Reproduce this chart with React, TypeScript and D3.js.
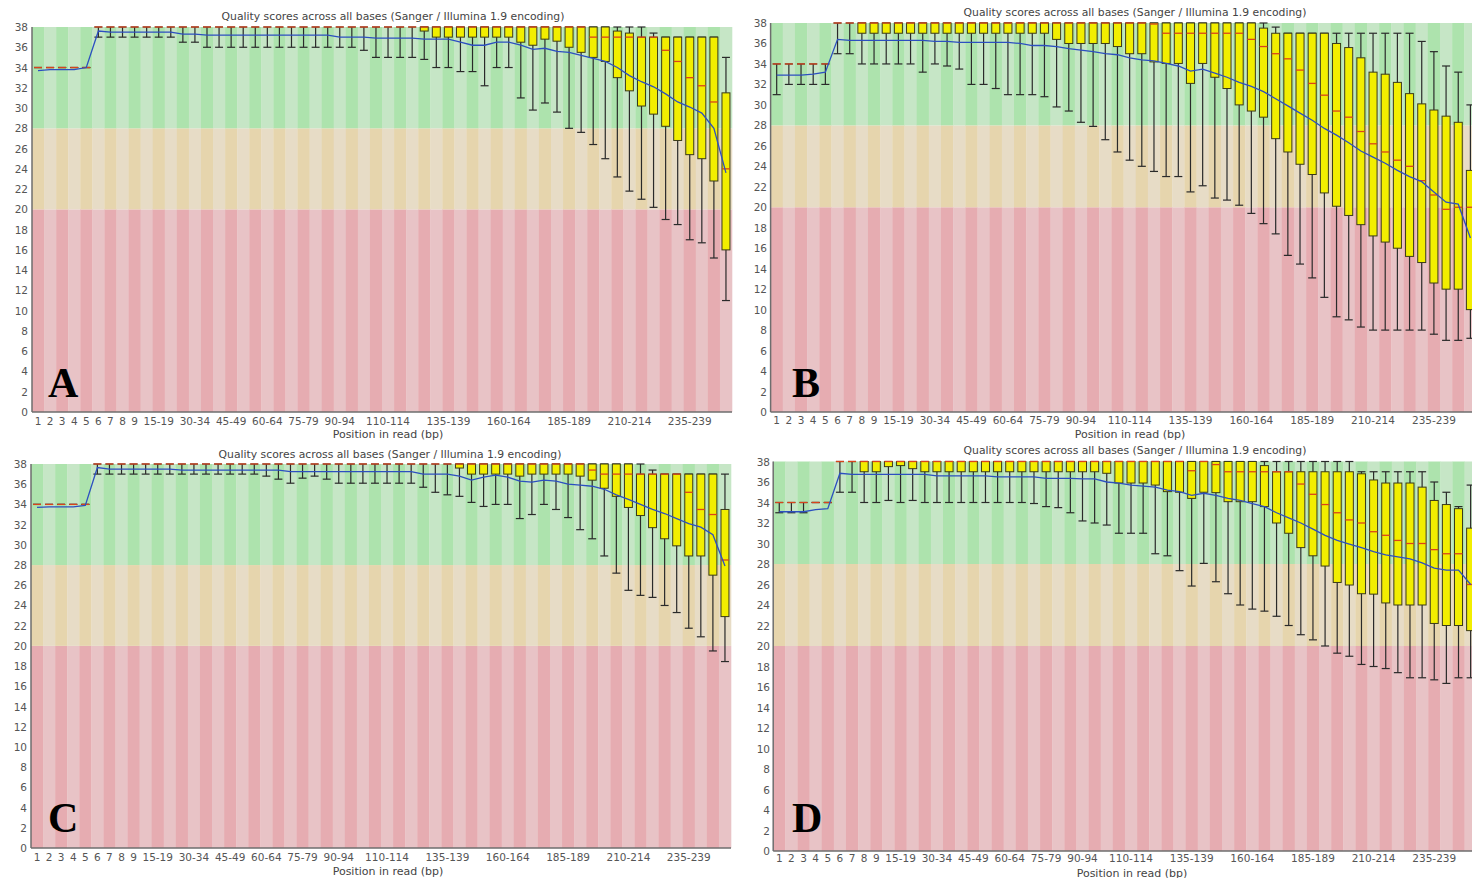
import * as d3 from 'd3'

// FastQC "per base sequence quality" for four samples (A-D)
const categories = [
  '1', '2', '3', '4', '5', '6', '7', '8', '9', '10-14', '15-19', '20-24', '25-29', '30-34', '35-39',
  '40-44', '45-49', '50-54', '55-59', '60-64', '65-69', '70-74', '75-79', '80-84', '85-89', '90-94',
  '95-99', '100-104', '105-109', '110-114', '115-119', '120-124', '125-129', '130-134', '135-139',
  '140-144', '145-149', '150-154', '155-159', '160-164', '165-169', '170-174', '175-179', '180-184',
  '185-189', '190-194', '195-199', '200-204', '205-209', '210-214', '215-219', '220-224', '225-229',
  '230-234', '235-239', '240-244', '245-249', '250-251',
]
const shownTicks = [
  '1', '2', '3', '4', '5', '6', '7', '8', '9', '15-19', '30-34', '45-49', '60-64', '75-79', '90-94',
  '110-114', '135-139', '160-164', '185-189', '210-214', '235-239',
]
const yTicks = [0, 2, 4, 6, 8, 10, 12, 14, 16, 18, 20, 22, 24, 26, 28, 30, 32, 34, 36, 38]
const title = 'Quality scores across all bases (Sanger / Illumina 1.9 encoding)'
const xTitle = 'Position in read (bp)'

// quality zones: bad / mediocre / good
const zones = [
  { lo: 0, hi: 20, dark: '#e6acb1', light: '#e8c3c6' },
  { lo: 20, hi: 28, dark: '#e6d5ad', light: '#e7dcc6' },
  { lo: 28, hi: 38, dark: '#ade3ad', light: '#c6e6c6' },
]

// ---- A ----
const aMean = [
  33.7, 33.8, 33.8, 33.8, 34.0, 37.6, 37.5, 37.5, 37.5, 37.5,
  37.5, 37.5, 37.3, 37.3, 37.2, 37.2, 37.2, 37.2, 37.2, 37.2,
  37.2, 37.2, 37.2, 37.2, 37.2, 37.0, 37.0, 37.0, 36.9, 36.9,
  36.9, 36.9, 36.8, 36.8, 36.8, 36.5, 36.2, 36.2, 36.5, 36.5,
  36.2, 35.8, 35.9, 35.6, 35.5, 35.2, 34.9, 34.6, 34.0, 33.2,
  32.6, 32.1, 31.4, 30.6, 30.1, 29.5, 28.0, 23.6,
]
const aMed = [
  34, 34, 34, 34, 34, 38, 38, 38, 38, 38,
  38, 38, 38, 38, 38, 38, 38, 38, 38, 38,
  38, 38, 38, 38, 38, 38, 38, 38, 38, 38,
  38, 38, 38, 38, 38, 38, 38, 38, 38, 38,
  38, 38, 38, 38, 38, 38, 37, 37, 37, 37,
  37, 37, 35.7, 34.6, 33, 32.2, 30.6, 24,
]
const aQ3 = [
  34, 34, 34, 34, 34, 38, 38, 38, 38, 38,
  38, 38, 38, 38, 38, 38, 38, 38, 38, 38,
  38, 38, 38, 38, 38, 38, 38, 38, 38, 38,
  38, 38, 38, 38, 38, 38, 38, 38, 38, 38,
  38, 38, 38, 38, 38, 38, 38, 38, 37.6, 37.4,
  37, 37, 37, 37, 37, 37, 37, 31.5,
]
const aQ1 = [
  34, 34, 34, 34, 34, 38, 38, 38, 38, 38,
  38, 38, 38, 38, 38, 38, 38, 38, 38, 38,
  38, 38, 38, 38, 38, 38, 38, 38, 38, 38,
  38, 38, 37.6, 37, 37, 37, 37, 37, 37, 37,
  36.5, 36.2, 36.8, 36.6, 36, 35.5, 35, 34.6, 33, 31.7,
  30.2, 29.4, 28.2, 26.8, 25.4, 25, 22.8, 16,
]
const aLo = [
  34, 34, 34, 34, 34, 37, 37, 37, 37, 37,
  37, 37, 36.5, 36.5, 36, 36, 36, 36, 36, 36,
  36, 36, 36, 36, 36, 36, 36, 35.7, 35, 35,
  35, 35, 34.8, 34, 34, 33.6, 33.6, 32.2, 34, 34,
  31, 29.8, 30.5, 29.6, 28, 27.6, 26.4, 25, 23.2, 21.8,
  21, 20.2, 19, 18.5, 17, 16.7, 15.2, 11,
]
const aHi = [
  34, 34, 34, 34, 34, 38, 38, 38, 38, 38,
  38, 38, 38, 38, 38, 38, 38, 38, 38, 38,
  38, 38, 38, 38, 38, 38, 38, 38, 38, 38,
  38, 38, 38, 38, 38, 38, 38, 38, 38, 38,
  38, 38, 38, 38, 38, 38, 38, 38, 38, 38,
  38, 37.4, 37, 37, 37, 37, 37, 35,
]

// ---- B ----
const bMean = [
  32.9, 32.9, 32.9, 33.0, 33.2, 36.4, 36.3, 36.3, 36.3, 36.3,
  36.3, 36.3, 36.3, 36.2, 36.2, 36.1, 36.1, 36.1, 36.1, 36.1,
  36.0, 35.8, 35.8, 35.7, 35.5, 35.35, 35.2, 35.0, 34.9, 34.6,
  34.4, 34.3, 34.05, 33.8, 33.3, 33.5, 33.1, 32.7, 32.2, 31.8,
  31.3, 30.6, 29.9, 29.2, 28.5, 27.7, 27.05, 26.3, 25.5, 24.9,
  24.3, 23.6, 23.0, 22.5, 21.5, 20.5, 20.3, 17,
]
const bMed = [
  34, 34, 34, 34, 34, 38, 38, 38, 38, 38,
  38, 38, 38, 38, 38, 38, 38, 38, 38, 38,
  38, 38, 38, 38, 38, 38, 38, 38, 38, 38,
  38, 37.9, 37, 37, 37, 37, 37, 37, 37, 36.4,
  35.7, 35.0, 34.5, 33.4, 32.1, 30.95, 29.4, 28.8, 27.4, 26.2,
  25.4, 24.6, 24.0, 22.6, 21.2, 19.8, 20, 20,
]
const bQ3 = [
  34, 34, 34, 34, 34, 38, 38, 38, 38, 38,
  38, 38, 38, 38, 38, 38, 38, 38, 38, 38,
  38, 38, 38, 38, 38, 38, 38, 38, 38, 38,
  38, 38, 38, 38, 38, 38, 38, 38, 38, 38,
  37.5, 37, 37, 37, 37, 37, 36, 35.6, 34.6, 33.2,
  33.0, 32.2, 31.1, 30.1, 29.5, 28.9, 28.3, 23.6,
]
const bQ1 = [
  34, 34, 34, 34, 34, 38, 38, 37, 37, 37,
  37, 37, 37, 37, 37, 37, 37, 37, 37, 37,
  37, 37, 37, 36.4, 36, 36, 36, 36, 35.7, 35,
  35, 34.2, 34.05, 34.05, 32.1, 34.05, 32.7, 31.6, 30.0, 29.4,
  28.8, 26.7, 25.4, 24.2, 23.2, 21.4, 20.1, 19.2, 18.3, 17.2,
  16.6, 16.0, 15.2, 14.6, 12.6, 12.0, 12.0, 10.0,
]
const bLo = [
  31, 32, 32, 32, 32, 35, 35, 34, 34, 34,
  34, 34, 33.2, 34, 33.8, 33.5, 32, 32, 31.6, 31,
  31, 31, 30.8, 29.8, 29.4, 28.3, 27.9, 26.6, 25.4, 24.6,
  24.0, 23.5, 23.0, 23.0, 21.5, 22.1, 20.9, 20.7, 20.2, 19.4,
  18.4, 17.4, 15.3, 14.45, 13.1, 11.2, 9.3, 9.0, 8.3, 8.0,
  8, 8, 8, 8, 7.6, 7.0, 7.0, 7.2,
]
const bHi = [
  34, 34, 34, 34, 34, 38, 38, 38, 38, 38,
  38, 38, 38, 38, 38, 38, 38, 38, 38, 38,
  38, 38, 38, 38, 38, 38, 38, 38, 38, 38,
  38, 38, 38, 38, 38, 38, 38, 38, 38, 38,
  38, 37.6, 37, 37, 37, 37, 37, 37, 37, 37,
  37, 37, 37, 36.2, 35.2, 33.8, 33.2, 30,
]

// ---- C ----
const cMean = [
  33.7, 33.75, 33.75, 33.75, 33.9, 37.65, 37.5, 37.5, 37.5, 37.5,
  37.5, 37.5, 37.4, 37.4, 37.4, 37.4, 37.4, 37.4, 37.4, 37.4,
  37.4, 37.25, 37.25, 37.25, 37.25, 37.25, 37.25, 37.25, 37.25, 37.25,
  37.25, 37.25, 37.0, 37.0, 37.0, 36.8, 36.4, 36.7, 36.9, 36.7,
  36.3, 36.2, 36.4, 36.3, 36.0, 35.9, 35.8, 35.5, 34.95, 34.5,
  34.0, 33.5, 33.1, 32.6, 32.1, 31.75, 31.0, 27.9,
]
const cMed = [
  34, 34, 34, 34, 34, 38, 38, 38, 38, 38,
  38, 38, 38, 38, 38, 38, 38, 38, 38, 38,
  38, 38, 38, 38, 38, 38, 38, 38, 38, 38,
  38, 38, 38, 38, 38, 38, 38, 38, 38, 38,
  38, 38, 38, 38, 38, 38, 37.4, 37, 37, 37,
  37, 37, 37, 37, 35.2, 33.5, 33, 28.5,
]
const cQ3 = [
  34, 34, 34, 34, 34, 38, 38, 38, 38, 38,
  38, 38, 38, 38, 38, 38, 38, 38, 38, 38,
  38, 38, 38, 38, 38, 38, 38, 38, 38, 38,
  38, 38, 38, 38, 38, 38, 38, 38, 38, 38,
  38, 38, 38, 38, 38, 38, 38, 38, 38, 38,
  37, 37, 37, 37, 37, 37, 37, 33.5,
]
const cQ1 = [
  34, 34, 34, 34, 34, 38, 38, 38, 38, 38,
  38, 38, 38, 38, 38, 38, 38, 38, 38, 38,
  38, 38, 38, 38, 38, 38, 38, 38, 38, 38,
  38, 38, 38, 38, 38, 37.6, 37, 37, 37, 37,
  36.8, 37, 37, 37, 37, 36.8, 36.4, 35.6, 34.8, 33.7,
  32.9, 31.7, 30.6, 29.9, 28.9, 28.9, 27.0, 22.9,
]
const cLo = [
  34, 34, 34, 34, 34, 37, 37, 37, 37, 37,
  37, 37, 37, 37, 37, 37, 37, 37, 37, 36.8,
  36.5, 36.1, 36.6, 36.8, 36.5, 36.1, 36.1, 36.1, 36.1, 36.1,
  36.1, 36.1, 35.7, 35.2, 34.95, 34.8, 34.2, 33.8, 34, 34,
  32.6, 33, 34, 33.5, 32.7, 31.5, 30.6, 28.9, 27.2, 25.5,
  25, 24.8, 24, 23.3, 21.75, 20.9, 19.5, 18.45,
]
const cHi = [
  34, 34, 34, 34, 34, 38, 38, 38, 38, 38,
  38, 38, 38, 38, 38, 38, 38, 38, 38, 38,
  38, 38, 38, 38, 38, 38, 38, 38, 38, 38,
  38, 38, 38, 38, 38, 38, 38, 38, 38, 38,
  38, 38, 38, 38, 38, 38, 38, 38, 38, 38,
  38, 37.4, 37, 37, 37, 37, 37, 37,
]

// ---- D ----
const dMean = [
  33.1, 33.1, 33.1, 33.3, 33.4, 36.85, 36.75, 36.75, 36.75, 36.75,
  36.75, 36.75, 36.75, 36.6, 36.6, 36.6, 36.6, 36.6, 36.5, 36.5,
  36.5, 36.5, 36.35, 36.35, 36.35, 36.3, 36.3, 36.0, 35.9, 35.7,
  35.6, 35.5, 35.2, 35.06, 34.7, 34.9, 34.7, 34.4, 34.2, 33.9,
  33.6, 33.0, 32.5, 32.0, 31.4, 30.8, 30.3, 29.95, 29.6, 29.2,
  28.9, 28.7, 28.5, 28.1, 27.6, 27.4, 27.4, 26.0,
]
const dMed = [
  34, 34, 34, 34, 34, 38, 38, 38, 38, 38,
  38, 38, 38, 38, 38, 38, 38, 38, 38, 38,
  38, 38, 38, 38, 38, 38, 38, 38, 38, 38,
  38, 38, 38, 38, 37.1, 38, 37.7, 37, 37, 37,
  37, 37, 37, 35.8, 34.8, 33.8, 33.0, 32.3, 32.0, 31.15,
  30.8, 30.3, 30.0, 30.0, 29.4, 29.0, 29.0, 26.0,
]
const dQ3 = [
  34, 34, 34, 34, 34, 38, 38, 38, 38, 38,
  38, 38, 38, 38, 38, 38, 38, 38, 38, 38,
  38, 38, 38, 38, 38, 38, 38, 38, 38, 38,
  38, 38, 38, 38, 38, 38, 38, 38, 38, 38,
  37.6, 37, 37, 37, 37, 37, 37, 37, 36.8, 36.2,
  35.9, 35.9, 35.9, 35.5, 34.2, 33.8, 33.4, 31.5,
]
const dQ1 = [
  34, 34, 34, 34, 34, 38, 38, 37, 37, 37.5,
  37.6, 37.3, 37, 37, 37, 37, 37, 37, 37, 37,
  37, 37, 37, 37, 37, 37, 37, 36.85, 35.9, 35.9,
  35.9, 35.7, 35.06, 35.0, 34.4, 35.0, 34.96, 34.08, 34.08, 34.08,
  33.6, 32.0, 31.0, 29.6, 28.8, 27.8, 26.2, 25.95, 25.1, 25.06,
  24.2, 24.0, 24.0, 24.0, 22.2, 22.0, 22.0, 21.5,
]
const dLo = [
  33, 33, 33, 34, 34, 35, 35, 34, 34, 34.2,
  34, 34.2, 34, 34, 34, 34, 34, 34, 34, 34,
  34, 33.9, 33.6, 33.5, 33.0, 32.2, 32.0, 31.8, 31.0, 31.0,
  31.0, 29.0, 28.8, 27.35, 25.85, 28.06, 26.27, 25.1, 24.0, 23.6,
  23.4, 22.9, 22.0, 21.1, 20.6, 20.0, 19.3, 19.0, 18.2, 18.0,
  17.8, 17.4, 16.9, 16.9, 16.7, 16.35, 16.9, 16.9,
]
const dHi = [
  34, 34, 34, 34, 34, 38, 38, 38, 38, 38,
  38, 38, 38, 38, 38, 38, 38, 38, 38, 38,
  38, 38, 38, 38, 38, 38, 38, 38, 38, 38,
  38, 38, 38, 38, 38, 38, 38, 38, 38, 38,
  38, 38, 38, 38, 38, 38, 38, 38, 37, 37,
  37, 37, 37, 37, 36, 35, 33.6, 35.7,
]

type Series = { mean: number[]; med: number[]; q1: number[]; q3: number[]; lo: number[]; hi: number[] }

const panels = [
  {
    id: 'A', left: 32, width: 700, top: 27, bottom: 412,
    titleX: 393, titleY: 19.5, tickY: 424.5, axisTitleX: 388, axisTitleY: 437.5, yLabelX: 28, letterX: 48, letterY: 397,
    series: { mean: aMean, med: aMed, q1: aQ1, q3: aQ3, lo: aLo, hi: aHi },
  },
  {
    id: 'B', left: 770.6, width: 705.9, top: 23, bottom: 412,
    titleX: 1135, titleY: 16, tickY: 424, axisTitleX: 1130, axisTitleY: 437.5, yLabelX: 767, letterX: 792, letterY: 397,
    series: { mean: bMean, med: bMed, q1: bQ1, q3: bQ3, lo: bLo, hi: bHi },
  },
  {
    id: 'C', left: 31, width: 700, top: 464, bottom: 848,
    titleX: 390, titleY: 457.5, tickY: 861, axisTitleX: 388, axisTitleY: 874.5, yLabelX: 27, letterX: 48, letterY: 832,
    series: { mean: cMean, med: cMed, q1: cQ1, q3: cQ3, lo: cLo, hi: cHi },
  },
  {
    id: 'D', left: 773.2, width: 703.5, top: 461.5, bottom: 851,
    titleX: 1135, titleY: 454, tickY: 862, axisTitleX: 1132, axisTitleY: 876.5, yLabelX: 770, letterX: 792, letterY: 832,
    series: { mean: dMean, med: dMed, q1: dQ1, q3: dQ3, lo: dLo, hi: dHi },
  },
]

const FONT = '"DejaVu Sans", Verdana, sans-serif'

function QualityPanel({ p }: { p: (typeof panels)[number] }) {
  const s: Series = p.series
  const x = d3.scaleBand<string>().domain(categories).range([p.left, p.left + p.width])
  const y = d3.scaleLinear().domain([0, 38]).range([p.bottom, p.top])
  const bw = x.bandwidth()
  const half = bw * 0.33
  const cx = (i: number) => (x(categories[i]) ?? 0) + bw / 2
  const meanPath = d3.line<number>().x((_, i) => cx(i)).y((v) => y(v))(s.mean) ?? ''

  return (
    <g>
      {/* striped quality zones */}
      {categories.map((c, i) =>
        zones.map((z) => (
          <rect
            key={`${c}-${z.lo}`}
            x={x(c)}
            y={y(z.hi)}
            width={bw + 0.3}
            height={y(z.lo) - y(z.hi)}
            fill={i % 2 === 0 ? z.dark : z.light}
          />
        )),
      )}

      {/* boxes and whiskers */}
      {categories.map((c, i) => {
        const xc = cx(i)
        return (
          <g key={`box-${c}`}>
            <line x1={xc} x2={xc} y1={y(s.hi[i])} y2={y(s.lo[i])} stroke="#2a2a2a" strokeWidth={1.2} />
            <line x1={xc - half} x2={xc + half} y1={y(s.hi[i])} y2={y(s.hi[i])} stroke="#2a2a2a" strokeWidth={1.2} />
            <line x1={xc - half} x2={xc + half} y1={y(s.lo[i])} y2={y(s.lo[i])} stroke="#2a2a2a" strokeWidth={1.2} />
            <rect
              x={xc - half}
              y={y(s.q3[i])}
              width={half * 2}
              height={Math.max(0, y(s.q1[i]) - y(s.q3[i]))}
              fill="#f2ee00"
              stroke="#3a3a1a"
              strokeWidth={1}
            />
            <line x1={xc - half} x2={xc + half} y1={y(s.med[i])} y2={y(s.med[i])} stroke="#d9441c" strokeWidth={1.3} />
          </g>
        )
      })}

      {/* mean line */}
      <path d={meanPath} fill="none" stroke="#2c4fc0" strokeWidth={1.3} />

      {/* axes */}
      <line x1={p.left} x2={p.left} y1={p.top} y2={p.bottom} stroke="#6e6e6e" strokeWidth={1.5} />
      <line x1={p.left} x2={p.left + p.width} y1={p.bottom} y2={p.bottom} stroke="#6e6e6e" strokeWidth={1.5} />

      {yTicks.map((t) => (
        <text key={`yt-${t}`} x={p.yLabelX} y={y(t) + 4} textAnchor="end" fontFamily={FONT} fontSize={10.5} fill="#555">
          {t}
        </text>
      ))}
      {shownTicks.map((t) => (
        <text
          key={`xt-${t}`}
          x={(x(t) ?? 0) + bw / 2}
          y={p.tickY}
          textAnchor="middle"
          fontFamily={FONT}
          fontSize={10.5}
          fill="#555"
        >
          {t}
        </text>
      ))}

      <text x={p.titleX} y={p.titleY} textAnchor="middle" fontFamily={FONT} fontSize={10.8} fill="#444">
        {title}
      </text>
      <text x={p.axisTitleX} y={p.axisTitleY} textAnchor="middle" fontFamily={FONT} fontSize={11} fill="#444">
        {xTitle}
      </text>
      <text
        x={p.letterX}
        y={p.letterY}
        fontFamily='"Liberation Serif", "Times New Roman", serif'
        fontWeight="bold"
        fontSize={42}
        fill="#000"
      >
        {p.id}
      </text>
    </g>
  )
}

export default function App() {
  return (
    <svg
      width={1472}
      height={878}
      viewBox="0 0 1472 878"
      style={{ position: 'absolute', left: 0, top: 0, background: '#fff' }}
    >
      <rect x={0} y={0} width={1472} height={878} fill="#fff" />
      {panels.map((p) => (
        <QualityPanel key={p.id} p={p} />
      ))}
    </svg>
  )
}
